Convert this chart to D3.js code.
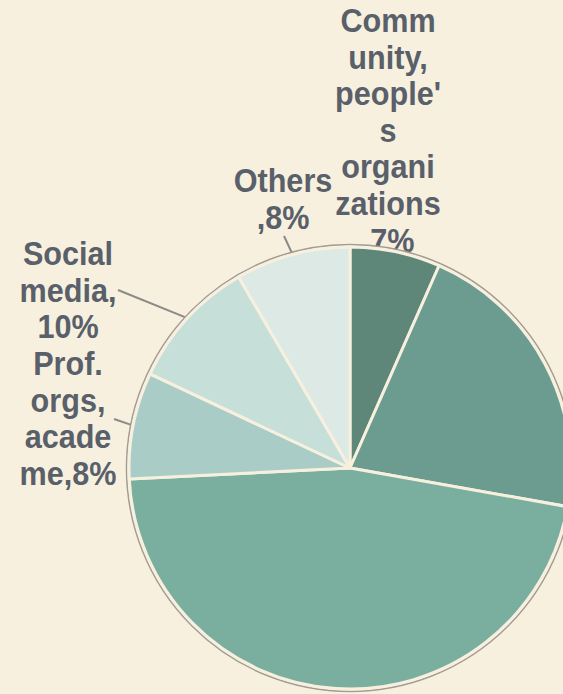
<!DOCTYPE html>
<html>
<head>
<meta charset="utf-8">
<script src="https://cdn.jsdelivr.net/npm/d3@7"></script>
<style>
  html, body { margin: 0; padding: 0; background: #f7f0df; }
  #pieChart { width: 563px; height: 694px; overflow: hidden; }
</style>
</head>
<body>
<div id="pieChart"></div>
<script>
// slices, clockwise from 12 o'clock (the two right slices have their labels cut off)
const categories = [
  "Community, people's organizations",
  "Government",
  "Individuals",
  "Prof. orgs, academe",
  "Social media",
  "Others",
];

const values = [6.6, 21.2, 46.4, 7.8, 9.6, 8.4];

const colors = [
  "#5e8679",
  "#6b9c8f",
  "#7aae9f",
  "#a9cdc6",
  "#c7dfd9",
  "#dce9e5",
];

// label text as wrapped in the picture (null = label not visible)
const labelLines = [
  ["Comm", "unity,", "people'", "s", "organi", "zations", ",7%"],
  null,
  null,
  ["Prof.", "orgs,", "acade", "me,8%"],
  ["Social", "media,", "10%"],
  ["Others", ",8%"],
];

const width = 563,
  height = 694,
  cx = 350,
  cy = 468,
  radius = 221;

const colorScale = d3.scaleOrdinal().domain(categories).range(colors);

const svg = d3
  .select("#pieChart")
  .append("svg")
  .attr("width", width)
  .attr("height", height);

const data = categories.map((c, i) => ({ name: c, value: values[i], lines: labelLines[i] }));

const pie = d3.pie().sort(null).value((d) => d.value);
const arcs = pie(data);

const arc = d3.arc().innerRadius(0).outerRadius(radius);

// where each label block sits relative to its slice (text anchor point, first baseline)
const labelBox = {
  "Community, people's organizations": { x: 388, y: 32, edge: null },
  "Others": { x: 283, y: 192, edge: [284, 236] },
  "Social media": { x: 68, y: 265, edge: [118, 290] },
  "Prof. orgs, academe": { x: 68, y: 375, edge: [114, 419] },
};
const lineHeight = 36.6;

const labels = svg.append("g").attr("class", "labels");

arcs.forEach((a) => {
  if (!a.data.lines) return;
  const box = labelBox[a.data.name];
  const t = labels
    .append("text")
    .attr("transform", `translate(${box.x},${box.y}) scale(0.9,1)`)
    .attr("text-anchor", "middle")
    .attr("font-family", "'Liberation Sans', Arial, sans-serif")
    .attr("font-weight", "bold")
    .attr("font-size", "34px")
    .attr("fill", "#59606a");
  t.selectAll("tspan")
    .data(a.data.lines)
    .enter()
    .append("tspan")
    .attr("x", 0)
    .attr("y", (d, i) => i * lineHeight)
    .text((d) => d);

  if (box.edge) {
    const mid = (a.startAngle + a.endAngle) / 2;
    const px = cx + Math.sin(mid) * (radius + 2);
    const py = cy - Math.cos(mid) * (radius + 2);
    labels
      .append("line")
      .attr("x1", box.edge[0])
      .attr("y1", box.edge[1])
      .attr("x2", px)
      .attr("y2", py)
      .attr("stroke", "#8c8a86")
      .attr("stroke-width", 2);
  }
});

const graph = svg.append("g").attr("transform", `translate(${cx},${cy})`);

// thin grey rim just outside the slices
graph
  .append("circle")
  .attr("r", radius + 2.5)
  .attr("fill", "#f7f0df")
  .attr("stroke", "#a39c92")
  .attr("stroke-width", 1.5);

graph
  .selectAll("path")
  .data(arcs)
  .enter()
  .append("path")
  .attr("d", arc)
  .attr("fill", (d) => colorScale(d.data.name))
  .attr("stroke", "#f7f0df")
  .attr("stroke-width", 3)
  .attr("stroke-linejoin", "round");
</script>
</body>
</html>
